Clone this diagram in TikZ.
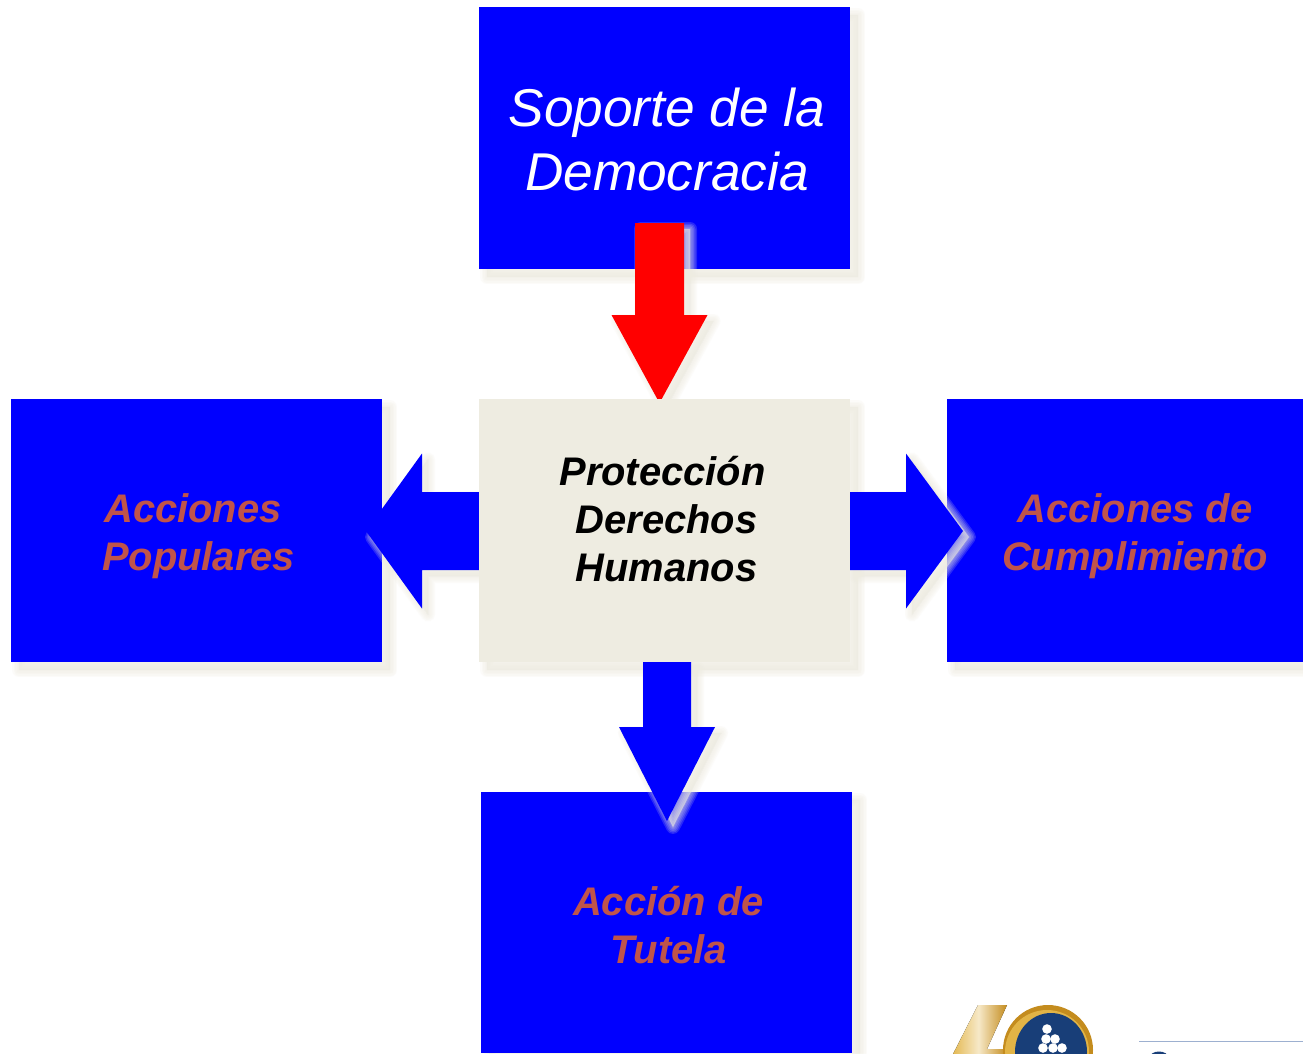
\documentclass[tikz,border=0pt]{standalone}
\usepackage{fontspec}
\setmainfont{Liberation Sans}
\usetikzlibrary{calc}
\definecolor{bluebox}{RGB}{0,0,255}
\definecolor{beige}{RGB}{238,236,225}
\definecolor{rust}{RGB}{192,84,74}
\definecolor{goldA}{RGB}{226,180,70}
\definecolor{goldB}{RGB}{196,140,30}
\definecolor{navy}{RGB}{24,62,120}
% soft shadow: a stack of translucent copies, shrinking towards the core
\newcommand{\softshadow}[2][8]{%
  \begin{scope}[transform canvas={shift={(#1,#1)}}]
    \foreach \w in {14,11,8,5,2}{
      \path[draw=beige,fill=beige,draw opacity=.17,fill opacity=.17,line width=\w pt,line join=round] #2;
    }
  \end{scope}}
% block arrow from (a) to (b): half shaft, half head, head length
\newcommand{\blockarrow}[6]{%
  \coordinate (#1b) at ($(#3)!#6 pt!(#2)$);
  \softshadow[6]{($(#2)!#4 pt!90:(#3)$) -- ($(#1b)!#4 pt!-90:(#2)$) -- ($(#1b)!#5 pt!-90:(#2)$) -- (#3) -- ($(#1b)!#5 pt!90:(#2)$) -- ($(#1b)!#4 pt!90:(#2)$) -- ($(#2)!#4 pt!-90:(#3)$) -- cycle}
}
\newcommand{\arrowbody}[7]{%
  \fill[#7] ($(#2)!#4 pt!90:(#3)$) -- ($(#1b)!#4 pt!-90:(#2)$) -- ($(#1b)!#5 pt!-90:(#2)$) -- (#3) -- ($(#1b)!#5 pt!90:(#2)$) -- ($(#1b)!#4 pt!90:(#2)$) -- ($(#2)!#4 pt!-90:(#3)$) -- cycle;
}
\tikzset{
  boxnode/.style={rectangle,inner sep=0pt,outer sep=0pt,fill=bluebox,minimum height=#1},
  labelbig/.style={align=center,text=white,font=\fontsize{53.2}{64}\selectfont\itshape,inner sep=0pt},
  labelrust/.style={align=center,text=rust,font=\fontsize{39.9}{48}\selectfont\bfseries\itshape,inner sep=0pt},
  labelblack/.style={align=center,text=black,font=\fontsize{39.9}{48}\selectfont\bfseries\itshape,inner sep=0pt},
}
\begin{document}
\begin{tikzpicture}[x=1pt,y=-1pt]
\useasboundingbox (0,0) rectangle (1303,1053);
\fill[white] (0,0) rectangle (1303,1053);
% box shadows
\softshadow{(479,7) rectangle (850,269)}
\softshadow{(11,399) rectangle (382,662)}
\softshadow{(479,399) rectangle (850,662)}
\softshadow{(947,399) rectangle (1303,662)}
\softshadow{(481,792) rectangle (852,1053)}
% boxes
\node[boxnode=262pt,minimum width=371pt] (top) at (664.5,138) {};
\node[boxnode=263pt,minimum width=371pt] (left) at (196.5,530.5) {};
\node[boxnode=263pt,minimum width=356pt] (right) at (1125,530.5) {};
\node[boxnode=261pt,minimum width=371pt] (bottom) at (666.5,922.5) {};
% arrow ends
\coordinate (redS) at (659.5,223);
\coordinate (redT) at (659.5,403);
\coordinate (leftS) at (479,531);
\coordinate (leftT) at (366,531);
\coordinate (rightS) at (850,531);
\coordinate (rightT) at (963,531);
\coordinate (downS) at (667,662);
\coordinate (downT) at (667,821);
% arrows
\blockarrow{red}{redS}{redT}{24.5}{48}{88}
\arrowbody{red}{redS}{redT}{24.5}{48}{88}{red}
\blockarrow{la}{leftS}{leftT}{39}{77.5}{56}
\arrowbody{la}{leftS}{leftT}{39}{77.5}{56}{bluebox}
\blockarrow{ra}{rightS}{rightT}{39}{77.5}{57}
\arrowbody{ra}{rightS}{rightT}{39}{77.5}{57}{bluebox}
\blockarrow{da}{downS}{downT}{24}{48}{94}
\arrowbody{da}{downS}{downT}{24}{48}{94}{bluebox}
% centre box
\node[rectangle,inner sep=0pt,outer sep=0pt,fill=beige,minimum width=371pt,minimum height=263pt] (centre) at (664.5,530.5) {};
% labels
\node[labelbig] (topL) at (667,139.5) {Soporte de la\\Democracia};
\node[labelrust] (leftL) at (198.5,536) {\hspace*{-11pt}Acciones\\Populares};
\node[labelrust] (rightL) at (1135,536) {Acciones de\\Cumplimiento};
\node[labelblack] (centreL) at (666.5,519) {Protección\hspace*{8pt}\\Derechos\\Humanos};
\node[labelrust] (bottomL) at (668.5,925) {Acción de\\Tutela};
% logo
\begin{scope}
\clip (0,0) rectangle (1303,1053);
\fill[left color=goldA,right color=goldB,middle color=white!70!goldA] (978,1005) -- (1007,1005) -- (987,1049) -- (1005,1049) -- (1005,1060) -- (950,1060) -- cycle;
\fill[goldB] (1048,1050) ellipse [x radius=45,y radius=45];
\fill[goldA] (1047,1052) ellipse [x radius=42,y radius=42];
\fill[navy] (1051,1052) ellipse [x radius=36,y radius=39];
\foreach \p in {(1047,1029),(1046,1039),(1055,1039),(1043,1048),(1053,1048),(1062,1048)}
  \fill[white] \p circle (4.8);
\draw[color={rgb,255:red,157;green,176;blue,208},line width=1.2pt] (1139,1041.5) -- (1303,1041.5);
\fill[navy] (1159,1057) ellipse [x radius=9,y radius=5.5];
\end{scope}
\end{tikzpicture}
\end{document}
